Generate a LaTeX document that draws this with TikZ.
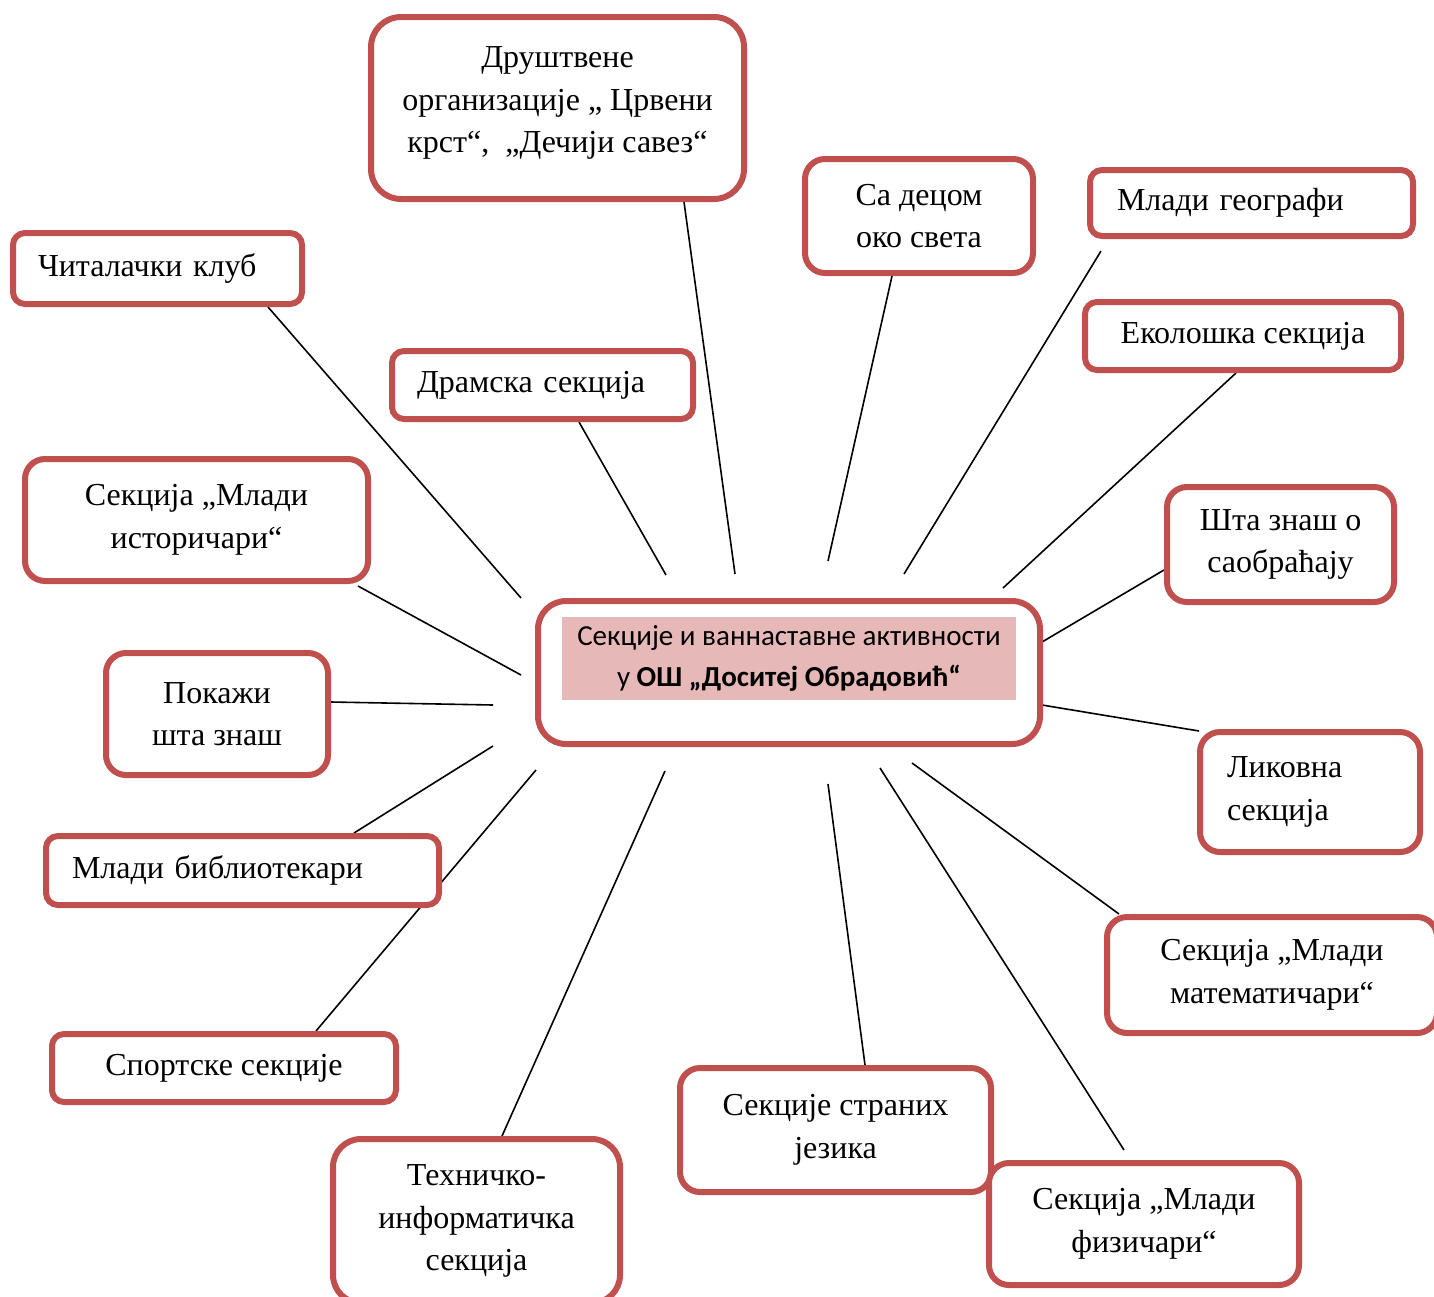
\documentclass[tikz,border=0pt]{standalone}
\usepackage{fontspec}
\setmainfont{Liberation Serif}
\newfontfamily\hubfont{Carlito}
\usepackage{xcolor}
\usetikzlibrary{calc}
\usetikzlibrary{backgrounds}
\definecolor{secred}{HTML}{C0504D}
\definecolor{hubpink}{HTML}{E6B8B7}

\begin{document}
\begin{tikzpicture}[x=1pt,y=-1pt,
    sect/.style={draw=secred,line width=6pt,fill=white,rounded corners=#1,
      align=center,inner sep=0pt,font=\fontsize{32}{42.5}\selectfont},
    sect/.default=20pt,
    lsect/.style={sect=#1,align=left},
    lsect/.default=12pt,
    hubtxt/.style={fill=hubpink,inner sep=0pt,align=center,
      font=\hubfont\fontsize{29}{41}\selectfont},
    link/.style={draw=black,line width=1.6pt}]
    \useasboundingbox (0,0) rectangle (1434,1296);

    % sections
    \node[sect=30pt,minimum width=373pt,minimum height=182pt] (org) at (557.5,108)
        {\raisebox{0pt}[\height][\dimexpr\depth+13pt\relax]{\begin{tabular}{@{}c@{}}Друштвене\\организације „ Црвени\\крст“,~ „Дечији савез“\end{tabular}}};
    \node[sect,minimum width=228pt,minimum height=114pt] (svet) at (919,216) {Са децом\\око света};
    \node[lsect,text width=269pt,inner xsep=27pt,minimum height=66pt] (geo) at (1251.5,203) {Млади географи};
    \node[lsect,text width=239pt,inner xsep=25pt,minimum height=71pt] (klub) at (157.5,268.5) {Читалачки клуб};
    \node[lsect,text width=251pt,inner xsep=25pt,minimum height=68pt] (drama) at (542.5,385) {Драмска секција};
    \node[sect=12pt,minimum width=316pt,minimum height=68pt] (eko) at (1243,336) {Еколошка секција};
    \node[sect,minimum width=343pt,minimum height=122pt] (hist) at (196.5,520) {Секција „Млади\\историчари“};
    \node[sect,minimum width=227pt,minimum height=115pt] (saob) at (1280.5,544.5) {Шта знаш о\\саобраћају};
    \node[sect,minimum width=222pt,minimum height=122pt] (pokazi) at (217,714) {Покажи\\шта знаш};
    \node[lsect=20pt,text width=166pt,inner xsep=27pt,minimum height=120pt] (likovna) at (1310,792) {Ликовна\\секција};
    \node[lsect,text width=341pt,inner xsep=26pt,minimum height=69pt] (bibl) at (242.5,870.5) {Млади библиотекари};
    \node[sect,minimum width=330pt,minimum height=116pt] (mat) at (1272,975) {Секција „Млади\\математичари“};
    \node[sect=12pt,minimum width=344pt,minimum height=68pt] (sport) at (224,1068) {Спортске секције};
    \node[sect,minimum width=311pt,minimum height=124pt] (jezik) at (835.5,1130) {Секције страних\\језика};
    \node[sect=28pt,minimum width=287pt,minimum height=164pt] (tehn) at (476.5,1221) {Техничко-\\информатичка\\секција};
    \node[sect,minimum width=310pt,minimum height=122pt] (fiz) at (1144,1224) {Секција „Млади\\физичари“};

    % center
    \node[sect=28pt,minimum width=502pt,minimum height=143pt] (hub) at (789,672.5) {};
    \node[hubtxt,minimum width=454pt,minimum height=83pt] (hubtext) at (789,658.5)
        {Секције и ваннаставне активности\\у \textbf{ОШ „Доситеј Обрадовић“}};

    % free ends round the center
    \coordinate (e-klub) at (521,598);
    \coordinate (e-org) at (735,574);
    \coordinate (e-drama) at (666,575);
    \coordinate (e-svet) at (828,561);
    \coordinate (e-geo) at (904,574);
    \coordinate (e-eko) at (1003,588);
    \coordinate (e-saob) at (1042,642);
    \coordinate (e-likovna) at (1042,705);
    \coordinate (e-hist) at (521,675);
    \coordinate (e-pokazi) at (493,705);
    \coordinate (e-bibl) at (493,746);
    \coordinate (e-sport) at (536,770);
    \coordinate (e-tehn) at (665,771);
    \coordinate (e-jezik) at (828,784);
    \coordinate (e-fiz) at (880,768);
    \coordinate (e-mat) at (912,763);

    \begin{scope}[on background layer]
    \draw[link] (e-klub) -- ($(klub.south)+(110.5,0)$);
    \draw[link] (e-org) -- ($(org.south)+(126.5,0)$);
    \draw[link] (e-drama) -- ($(drama.south)+(36.5,0)$);
    \draw[link] (e-svet) -- ($(svet.south)+(-27,0)$);
    \draw[link] (e-geo) -- ($(geo.south)+(-150.5,12)$);
    \draw[link] (e-eko) -- ($(eko.south)+(-7,0)$);
    \draw[link] (e-saob) -- ($(saob.west)+(0,25.5)$);
    \draw[link] (e-likovna) -- ($(likovna.north west)+(2,2)$);
    \draw[link] (e-hist) -- ($(hist.south east)+(-13,2)$);
    \draw[link] (e-pokazi) -- ($(pokazi.east)+(0,-12)$);
    \draw[link] (e-bibl) -- ($(bibl.north)+(111.5,0)$);
    \draw[link] (e-sport) -- ($(sport.north)+(92,0)$);
    \draw[link] (e-tehn) -- ($(tehn.north)+(25.5,0)$);
    \draw[link] (e-jezik) -- ($(jezik.north)+(29.5,0)$);
    \draw[link] (e-fiz) -- ($(fiz.north)+(-20,-10)$);
    \draw[link] (e-mat) -- ($(mat.north west)+(15,0)$);
    \end{scope}
\end{tikzpicture}
\end{document}
